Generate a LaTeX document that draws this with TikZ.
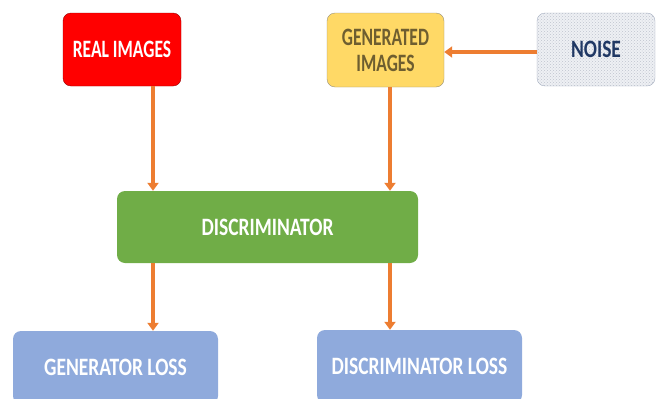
\documentclass[tikz,border=0pt]{standalone}
\usepackage{fontspec}
\newfontfamily\labelfont{Carlito}[FakeStretch=0.78]
\newfontfamily\toplabelfont{Carlito}[FakeStretch=0.70]
\usepackage{tikz}
\usetikzlibrary{arrows.meta,patterns}

\definecolor{realred}{HTML}{FF0000}
\definecolor{genyellow}{HTML}{FFD966}
\definecolor{gentext}{HTML}{6E5E30}
\definecolor{noisefill}{HTML}{EEF0F4}
\definecolor{noisedots}{HTML}{BFC4CE}
\definecolor{noisetext}{HTML}{203864}
\definecolor{discgreen}{HTML}{70AD47}
\definecolor{lossblue}{HTML}{8FAADC}
\definecolor{floworange}{HTML}{ED7D31}

\begin{document}
\begin{tikzpicture}[x=1pt, y=-1pt,
  every box/.style={rounded corners=8pt, inner sep=0pt, align=center,
    font=\labelfont\bfseries\fontsize{25}{26}\selectfont},
  top box/.style={every box, font=\toplabelfont\bfseries\fontsize{25}{26}\selectfont},
  flow/.style={floworange, line width=4pt, -{Triangle[width=11pt,length=8pt]}}]

\useasboundingbox (0,0) rectangle (659,399);
\clip (0,0) rectangle (659,399);

\node [top box, fill=realred, draw=red!60!black, text=white,
  minimum width=118pt, minimum height=73pt] (real) at (122,49.5) {REAL IMAGES};
\node [top box, fill=genyellow, draw=gray!80!genyellow, text=gentext,
  minimum width=117pt, minimum height=74pt] (gen) at (385.5,50) {GENERATED\\IMAGES};
\node [every box, preaction={fill=noisefill}, pattern=crosshatch dots,
  pattern color=noisedots, draw=noisetext!40, text=noisetext,
  minimum width=118pt, minimum height=73pt] (noise) at (596,49.5) {NOISE};

\node [every box, fill=discgreen, text=white,
  minimum width=301pt, minimum height=72pt] (disc) at (267.5,227) {DISCRIMINATOR};

\node [every box, fill=lossblue, text=white,
  minimum width=205pt, minimum height=73pt] (genloss) at (115.5,367.5) {GENERATOR LOSS};
\node [every box, fill=lossblue, text=white,
  minimum width=205pt, minimum height=73pt] (discloss) at (419.5,366.5) {DISCRIMINATOR LOSS};

% arrow columns
\coordinate (colA) at (153,0);
\coordinate (colB) at (390,0);

\draw [flow] (noise.west |- 0,52) -- (gen.east |- 0,52);

\draw [flow] (real.south -| colA) -- (disc.north -| colA);
\draw [flow] (gen.south -| colB) -- (disc.north -| colB);

\draw [flow] (disc.south -| colA) -- (genloss.north -| colA);
\draw [flow] (disc.south -| colB) -- (discloss.north -| colB);

\end{tikzpicture}
\end{document}
